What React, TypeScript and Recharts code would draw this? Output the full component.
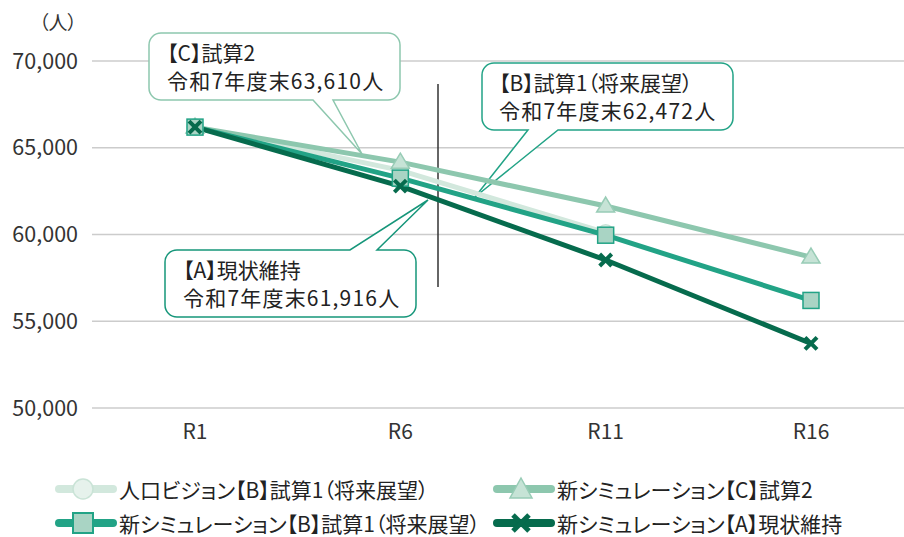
import React from 'react';
import { LineChart, Line, XAxis, YAxis, CartesianGrid, Customized } from 'recharts';

const years = ['R1', 'R6', 'R11', 'R16'];
const visionB = [66190, 63700, 60100, null];
const simC = [66190, 64170, 61640, 58700];
const simB = [66190, 63250, 59960, 56200];
const simA = [66190, 62790, 58530, 53720];
const yTicks = [50000, 55000, 60000, 65000, 70000];

const seriesNames = {
  visionB: '人口ビジョン【B】試算1（将来展望）',
  simC: '新シミュレーション【C】試算2',
  simB: '新シミュレーション【B】試算1（将来展望）',
  simA: '新シミュレーション【A】現状維持',
};

const data = years.map((year, i) => ({
  year,
  visionB: visionB[i],
  simC: simC[i],
  simB: simB[i],
  simA: simA[i],
}));

const FONT = "'Noto Sans CJK JP', 'Noto Sans', sans-serif";

const COLORS = {
  visionLine: '#d2e8dd',
  visionFill: '#e6f2ec',
  visionStroke: '#c9e3d6',
  cLine: '#8dc7ae',
  cFill: '#c6e3d6',
  cStroke: '#98ccb6',
  bLine: '#22a386',
  bFill: '#a9d4c4',
  aLine: '#066b4d',
};

const CircleMark = ({ cx, cy }: any) => (
  <circle cx={cx} cy={cy} r={8} fill={COLORS.visionFill} stroke={COLORS.visionStroke} strokeWidth={1.5} />
);
const TriangleMark = ({ cx, cy }: any) => (
  <polygon
    points={`${cx},${cy - 9} ${cx + 9},${cy + 6} ${cx - 9},${cy + 6}`}
    fill={COLORS.cFill}
    stroke={COLORS.cStroke}
    strokeWidth={1.5}
  />
);
const SquareMark = ({ cx, cy }: any) => (
  <rect x={cx - 8} y={cy - 8} width={16} height={16} fill={COLORS.bFill} stroke={COLORS.bLine} strokeWidth={1.5} />
);
const CrossMark = ({ cx, cy }: any) => (
  <g stroke={COLORS.aLine} strokeWidth={4}>
    <line x1={cx - 6} y1={cy - 6} x2={cx + 6} y2={cy + 6} />
    <line x1={cx - 6} y1={cy + 6} x2={cx + 6} y2={cy - 6} />
  </g>
);

const makeDot = (Mark: any) => (props: any) => {
  if (props.cy == null || props.value == null) return <g key={props.index} />;
  return (
    <g key={props.index}>
      <Mark cx={props.cx} cy={props.cy} />
    </g>
  );
};

// callout box with a pointer on the bottom or top edge
function calloutPath(x: number, y: number, w: number, h: number, r: number, side: string, a: number, b: number, tx: number, ty: number) {
  const R = x + w;
  const B = y + h;
  if (side === 'bottom') {
    return `M${x + r},${y} L${R - r},${y} A${r},${r} 0 0 1 ${R},${y + r} L${R},${B - r} A${r},${r} 0 0 1 ${R - r},${B} L${b},${B} L${tx},${ty} L${a},${B} L${x + r},${B} A${r},${r} 0 0 1 ${x},${B - r} L${x},${y + r} A${r},${r} 0 0 1 ${x + r},${y} Z`;
  }
  return `M${x + r},${y} L${a},${y} L${tx},${ty} L${b},${y} L${R - r},${y} A${r},${r} 0 0 1 ${R},${y + r} L${R},${B - r} A${r},${r} 0 0 1 ${R - r},${B} L${x + r},${B} A${r},${r} 0 0 1 ${x},${B - r} L${x},${y + r} A${r},${r} 0 0 1 ${x + r},${y} Z`;
}

const textStyle = { fontFamily: FONT, fontSize: 21, fill: '#222', fontFeatureSettings: '"palt"' } as any;
const numStyle = { ...textStyle, letterSpacing: 1.2 };

const Annotations = () => (
  <g>
    <line x1={438} y1={84} x2={438} y2={287} stroke="#333" strokeWidth={1.5} />
    <path d={calloutPath(149, 33, 251, 67, 12, 'bottom', 313, 333, 362, 154)} fill="#fff" stroke={COLORS.cLine} strokeWidth={1.5} />
    <text x={167} y={61} style={textStyle}>【C】試算2</text>
    <text x={167} y={89} style={numStyle}>令和7年度末63,610人</text>

    <path d={calloutPath(482, 63, 251, 67, 12, 'bottom', 528, 558, 475, 197)} fill="#fff" stroke={COLORS.bLine} strokeWidth={1.5} />
    <text x={499} y={91} style={textStyle}>【B】試算1（将来展望）</text>
    <text x={499} y={119} style={numStyle}>令和7年度末62,472人</text>

    <path d={calloutPath(165, 250, 251, 67, 12, 'top', 350, 377, 428, 200)} fill="#fff" stroke="#16967a" strokeWidth={1.5} />
    <text x={183} y={278} style={textStyle}>【A】現状維持</text>
    <text x={183} y={306} style={numStyle}>令和7年度末61,916人</text>

    <text x={39} y={30} style={{ ...textStyle, fontSize: 19, fill: '#333' }}>（人）</text>
  </g>
);

const LegendItem = ({ left, top, color, Mark, label }: any) => (
  <div style={{ position: 'absolute', left, top, height: 30, display: 'flex', alignItems: 'center' }}>
    <svg width={64} height={30}>
      <line x1={4} y1={15} x2={58} y2={15} stroke={color} strokeWidth={8} strokeLinecap="round" />
      <Mark cx={28} cy={15} />
    </svg>
    <span style={{ fontFamily: FONT, fontSize: 21, color: '#222', fontFeatureSettings: '"palt"', whiteSpace: 'nowrap' }}>{label}</span>
  </div>
);

const BigCircle = ({ cx, cy }: any) => (
  <circle cx={cx} cy={cy} r={10} fill={COLORS.visionFill} stroke={COLORS.visionStroke} strokeWidth={1.5} />
);
const BigTriangle = ({ cx, cy }: any) => (
  <polygon points={`${cx},${cy - 11} ${cx + 11},${cy + 9} ${cx - 11},${cy + 9}`} fill={COLORS.cFill} stroke={COLORS.cStroke} strokeWidth={1.5} />
);
const BigSquare = ({ cx, cy }: any) => (
  <rect x={cx - 10} y={cy - 10} width={20} height={20} fill={COLORS.bFill} stroke={COLORS.bLine} strokeWidth={2} />
);
const BigCross = ({ cx, cy }: any) => (
  <g stroke={COLORS.aLine} strokeWidth={5}>
    <line x1={cx - 8} y1={cy - 8} x2={cx + 8} y2={cy + 8} />
    <line x1={cx - 8} y1={cy + 8} x2={cx + 8} y2={cy - 8} />
  </g>
);

export default function App() {
  return (
    <div style={{ position: 'absolute', left: 0, top: 0, width: 904, height: 537, background: '#fff' }}>
      <LineChart width={904} height={537} data={data} margin={{ top: 61, right: 0, left: 0, bottom: 89 }}>
        <CartesianGrid vertical={false} stroke="#cccccc" strokeWidth={1.5} />
        <XAxis
          dataKey="year"
          padding={{ left: 103, right: 93 }}
          axisLine={false}
          tickLine={false}
          tickSize={0}
          tickMargin={16}
          height={40}
          tick={{ fontFamily: FONT, fontSize: 21, fill: '#333' }}
        />
        <YAxis
          width={92}
          domain={[50000, 70000]}
          ticks={yTicks}
          axisLine={false}
          tickLine={false}
          tickSize={0}
          tickMargin={14}
          tickFormatter={(v: number) => v.toLocaleString('en-US')}
          tick={{ fontFamily: FONT, fontSize: 21.5, fill: '#333' }}
        />
        <Line dataKey="visionB" name={seriesNames.visionB} stroke={COLORS.visionLine} strokeWidth={5} dot={makeDot(CircleMark)} activeDot={false} isAnimationActive={false} />
        <Line dataKey="simC" name={seriesNames.simC} stroke={COLORS.cLine} strokeWidth={5} dot={makeDot(TriangleMark)} activeDot={false} isAnimationActive={false} />
        <Line dataKey="simB" name={seriesNames.simB} stroke={COLORS.bLine} strokeWidth={5} dot={makeDot(SquareMark)} activeDot={false} isAnimationActive={false} />
        <Line dataKey="simA" name={seriesNames.simA} stroke={COLORS.aLine} strokeWidth={5} dot={makeDot(CrossMark)} activeDot={false} isAnimationActive={false} />
        <Customized component={Annotations} />
      </LineChart>
      <LegendItem left={55} top={474} color={COLORS.visionLine} Mark={BigCircle} label={seriesNames.visionB} />
      <LegendItem left={493} top={474} color={COLORS.cLine} Mark={BigTriangle} label={seriesNames.simC} />
      <LegendItem left={55} top={508} color={COLORS.bLine} Mark={BigSquare} label={seriesNames.simB} />
      <LegendItem left={493} top={508} color={COLORS.aLine} Mark={BigCross} label={seriesNames.simA} />
    </div>
  );
}
